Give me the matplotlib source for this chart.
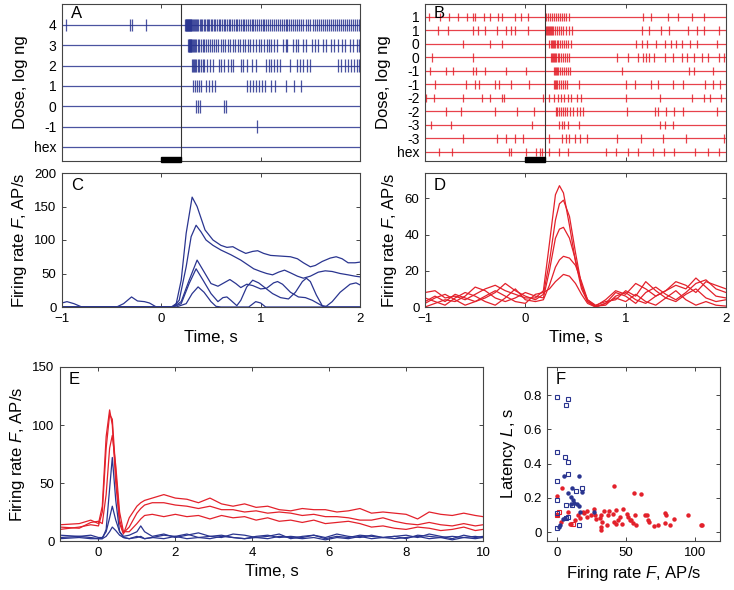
import matplotlib
matplotlib.use('Agg')
import matplotlib.pyplot as plt
import matplotlib.transforms as mtransforms
from matplotlib.patches import Rectangle

plt.rcParams['font.family'] = ['Liberation Sans', 'DejaVu Sans']
plt.rcParams['mathtext.fontset'] = 'custom'
plt.rcParams['mathtext.it'] = 'Liberation Sans:italic'
plt.rcParams['mathtext.rm'] = 'Liberation Sans'

BLUE = '#2a3590'
RED = '#e3212b'

# ---- A: spike trains, blue neuron (top row = dose 4) ----
A_labels = ['4', '3', '2', '1', '0', '-1', 'hex']
A_spikes = [
    [-0.96, -0.32, -0.30, -0.155,
     0.24, 0.245, 0.25, 0.255, 0.26, 0.265, 0.27, 0.275, 0.28, 0.285, 0.29, 0.295, 0.30, 0.31,
     0.32, 0.33, 0.34, 0.35, 0.36, 0.37, 0.385, 0.40, 0.41, 0.43, 0.44, 0.455, 0.47, 0.48, 0.50,
     0.51, 0.53, 0.545, 0.56, 0.58, 0.59, 0.61, 0.63, 0.64, 0.66, 0.68, 0.69, 0.71, 0.73, 0.75,
     0.76, 0.78, 0.80, 0.82, 0.83, 0.85, 0.87, 0.89, 0.91, 0.92, 0.94, 0.96, 0.98, 1.00, 1.02,
     1.03, 1.05, 1.07, 1.09, 1.11, 1.13, 1.15, 1.17, 1.19, 1.21, 1.23, 1.25, 1.27, 1.29, 1.31,
     1.33, 1.35, 1.37, 1.39, 1.41, 1.43, 1.46, 1.48, 1.50, 1.53, 1.55, 1.57, 1.59, 1.61, 1.63,
     1.65, 1.67, 1.69, 1.71, 1.73, 1.75, 1.77, 1.79, 1.81, 1.83, 1.85, 1.87, 1.89, 1.91, 1.93,
     1.95, 1.97, 1.99],
    [0.27, 0.275, 0.28, 0.285, 0.29, 0.295, 0.30, 0.31, 0.32, 0.33, 0.34, 0.35, 0.37, 0.38, 0.40,
     0.42, 0.43, 0.45, 0.47, 0.49, 0.51, 0.53, 0.55, 0.57, 0.60, 0.62, 0.64, 0.67, 0.69, 0.72,
     0.74, 0.77, 0.79, 0.82, 0.84, 0.87, 0.89, 0.92, 0.95, 0.98, 1.00, 1.03, 1.06, 1.08, 1.10,
     1.13, 1.16, 1.22, 1.25, 1.27, 1.33, 1.36, 1.38, 1.43, 1.46, 1.52, 1.55, 1.58, 1.63, 1.66,
     1.71, 1.74, 1.78, 1.82, 1.85, 1.90, 1.93, 1.97, 1.99],
    [0.31, 0.32, 0.33, 0.34, 0.35, 0.37, 0.38, 0.40, 0.42, 0.43, 0.46, 0.49, 0.52, 0.58, 0.60,
     0.63, 0.67, 0.70, 0.72, 0.80, 0.82, 0.86, 0.91, 0.95, 1.05, 1.08, 1.10, 1.13, 1.16, 1.19,
     1.30, 1.37, 1.40, 1.43, 1.47, 1.50, 1.78, 1.81, 1.85, 1.88, 1.91, 1.94, 1.97, 1.99],
    [0.32, 0.34, 0.36, 0.38, 0.40, 0.45, 0.48, 0.51, 0.54, 0.86, 0.89, 0.92, 0.95, 0.98, 1.01,
     1.04, 1.10, 1.14, 1.25, 1.34, 1.41],
    [0.35, 0.37, 0.39, 0.63, 0.65],
    [0.96],
    [],
]

# ---- B: spike trains, red neuron (top row first) ----
B_labels = ['1', '1', '0', '0', '-1', '-1', '-2', '-2', '-3', '-3', 'hex']
B_spikes = [
    [-0.96, -0.85, -0.76, -0.67, -0.58, -0.525, -0.50, -0.41, -0.35, -0.27, -0.235, -0.10, -0.04,
     0.03, 0.21, 0.23, 0.25, 0.27, 0.29, 0.31, 0.33, 0.35, 0.37, 0.39, 0.41, 0.44, 1.17, 1.25,
     1.42, 1.52, 1.66, 1.78],
    [-0.875, -0.77, -0.525, -0.475, -0.40, -0.28, -0.195, -0.14, -0.10, 0.03, 0.21, 0.22, 0.23,
     0.24, 0.25, 0.26, 0.27, 0.28, 0.30, 0.32, 0.34, 0.36, 0.38, 0.41, 0.44, 0.47, 1.16, 1.235,
     1.35, 1.43, 1.62, 1.71, 1.78, 1.93],
    [-0.62, -0.35, -0.23, 0.24, 0.26, 0.27, 0.28, 0.29, 0.30, 0.32, 0.33, 0.35, 0.37, 0.39, 0.41,
     0.43, 0.46, 1.10, 1.16, 1.21, 1.30, 1.39, 1.45, 1.505, 1.56, 1.64, 1.71, 1.91],
    [-0.93, -0.525, 0.26, 0.27, 0.28, 0.29, 0.30, 0.31, 0.33, 0.34, 0.36, 0.38, 0.40, 0.42, 0.44,
     0.91, 1.02, 1.12, 1.17, 1.20, 1.235, 1.28, 1.39, 1.47, 1.56, 1.615, 1.68, 1.76, 1.825, 1.93,
     1.98],
    [-0.946, -0.795, -0.72, -0.525, -0.49, -0.40, -0.195, 0.007, 0.29, 0.30, 0.31, 0.32, 0.33,
     0.35, 0.37, 0.39, 0.41, 0.43, 0.45, 0.96, 1.63, 1.68, 1.875],
    [-0.90, -0.59, -0.50, -0.465, -0.30, -0.26, -0.14, 0.04, 0.29, 0.30, 0.31, 0.32, 0.34, 0.36,
     0.38, 0.40, 0.42, 0.53, 1.00, 1.09, 1.25, 1.326, 1.47, 1.57, 1.79, 1.866, 1.94],
    [-0.99, -0.91, -0.62, -0.43, -0.35, -0.235, -0.21, 0.175, 0.24, 0.29, 0.33, 0.36, 0.39, 0.43,
     0.46, 0.51, 0.55, 1.00, 1.34, 1.66, 1.78, 1.84, 1.95],
    [-0.795, -0.64, -0.305, -0.08, 0.085, 0.31, 0.32, 0.34, 0.36, 0.38, 0.40, 0.42, 0.45, 0.48,
     0.51, 0.54, 0.57, 1.01, 1.29, 1.32, 1.40, 1.48, 1.57, 1.91],
    [-0.94, -0.745, 0.07, 0.34, 0.37, 0.39, 0.43, 0.535, 1.345, 1.39, 1.47],
    [-0.626, -0.286, -0.195, -0.10, -0.02, 0.24, 0.37, 0.41, 0.44, 0.495, 0.545, 0.613, 0.916,
     1.15, 1.377, 1.605, 1.98],
    [-0.859, -0.73, -0.16, -0.14, 0.007, 0.107, 0.15, 0.168, 0.235, 0.34, 0.43, 0.80, 0.90, 1.02,
     1.12, 1.27, 1.38, 1.48, 1.69, 1.825, 1.93],
]

# ---- C: firing rate, blue neuron ----
C1_t = [-1, -0.95, -0.88, -0.8, -0.45, -0.38, -0.3, -0.24, -0.17, -0.12, -0.05, 0.1, 0.15, 0.2,
        0.25, 0.31, 0.36, 0.44, 0.52, 0.6, 0.66, 0.72, 0.78, 0.85, 0.92, 0.97, 1.03, 1.1, 1.2,
        1.3, 1.37, 1.43, 1.5, 1.55, 1.62, 1.7, 1.76, 1.82, 1.88, 1.95, 2.0]
C1_v = [6, 8, 5, 0, 0, 5, 15, 9, 8, 6, 0, 0, 5, 40, 110, 164, 150, 115, 100, 92, 89, 90, 85, 80,
        83, 84, 80, 77, 76, 75, 72, 66, 60, 62, 68, 73, 75, 72, 66, 66, 67]
C2_t = [-1, 0.12, 0.18, 0.25, 0.3, 0.35, 0.4, 0.45, 0.52, 0.6, 0.7, 0.8, 0.87, 0.93, 1.0, 1.06,
        1.12, 1.18, 1.24, 1.3, 1.37, 1.43, 1.5, 1.58, 1.65, 1.72, 1.8, 1.88, 1.95, 2.0]
C2_v = [0, 0, 10, 60, 105, 122, 112, 100, 92, 85, 78, 70, 63, 57, 53, 50, 48, 52, 55, 51, 46,
        43, 46, 52, 54, 53, 50, 48, 46, 45]
C3_t = [-1, 0.12, 0.2, 0.28, 0.36, 0.42, 0.5, 0.57, 0.63, 0.69, 0.75, 0.8, 0.86, 0.92, 1.0,
        1.06, 1.13, 1.17, 1.22, 1.3, 1.38, 1.45, 1.52, 1.58, 1.64, 2.0]
C3_v = [0, 0, 8, 40, 70, 55, 35, 31, 36, 41, 35, 29, 34, 32, 27, 28, 36, 38, 34, 22, 15, 14, 10,
        5, 0, 0]
C4_t = [-1, 0.12, 0.2, 0.28, 0.35, 0.42, 0.5, 0.57, 0.62, 0.66, 0.7, 0.76, 0.8, 0.86, 0.92,
        0.98, 1.05, 1.12, 1.2, 1.28, 1.35, 1.42, 1.46, 1.5, 1.56, 1.62, 1.66, 1.72, 1.8, 1.9,
        1.96, 2.0]
C4_v = [0, 0, 5, 35, 57, 40, 20, 8, 14, 15, 10, 2, 10, 30, 40, 36, 28, 20, 14, 12, 22, 38, 43,
        38, 18, 2, 1, 8, 22, 34, 36, 33]
C5_t = [-1, 0.15, 0.25, 0.31, 0.37, 0.43, 0.5, 0.55, 0.6, 0.88, 0.95, 1.0, 1.05, 2.0]
C5_v = [0, 0, 5, 20, 30, 22, 8, 1, 0, 0, 8, 6, 0, 0]

# ---- D: firing rate, red neuron ----
D_time = [-1, -0.9, -0.8, -0.7, -0.6, -0.5, -0.4, -0.3, -0.2, -0.1, 0, 0.1, 0.18, 0.24, 0.3,
          0.34, 0.38, 0.44, 0.5, 0.56, 0.62, 0.7, 0.8, 0.9, 1.0, 1.1, 1.2, 1.3, 1.4, 1.5, 1.6,
          1.7, 1.8, 1.9, 2.0]
D1 = [8, 9, 5, 6, 4, 7, 10, 12, 9, 7, 5, 5, 9, 35, 62, 67, 63, 45, 25, 10, 3, 0.5, 1, 6, 8,
      4, 2, 6, 9, 12, 10, 16, 11, 6, 5]
D2 = [3, 6, 3, 7, 5, 3, 5, 8, 13, 9, 6, 4, 7, 25, 48, 57, 59, 50, 30, 12, 4, 0.5, 4, 9, 7,
      13, 10, 6, 9, 14, 12, 8, 14, 12, 10]
D3 = [0, 2, 4, 3, 6, 11, 9, 5, 3, 5, 8, 6, 5, 20, 38, 43, 44, 38, 26, 12, 3, 0, 2, 8, 6,
      2, 8, 11, 7, 4, 8, 13, 15, 10, 8]
D4 = [5, 3, 1, 5, 8, 6, 3, 1, 5, 10, 4, 3, 4, 12, 22, 26, 28, 27, 23, 14, 4, 1, 3, 4, 9,
      6, 14, 9, 5, 3, 7, 10, 5, 3, 4]
D5 = [2, 5, 7, 4, 1, 3, 6, 9, 6, 3, 2, 7, 8, 10, 14, 16, 18, 17, 13, 7, 2, 0, 2, 5, 3,
      7, 3, 1, 5, 9, 4, 1, 3, 1, 0.5]

# ---- E: long firing rate traces ----
E_time = [-1, -0.5, -0.2, 0, 0.1, 0.2, 0.29, 0.36, 0.45, 0.55, 0.65, 0.8, 1.0, 1.1, 1.2, 1.4,
          1.7, 2.0, 2.3, 2.6, 2.9, 3.2, 3.5, 3.8, 4.1, 4.4, 4.7, 5.0, 5.3, 5.6, 5.9, 6.2, 6.5,
          6.8, 7.1, 7.4, 7.7, 8.0, 8.3, 8.6, 8.9, 9.2, 9.5, 9.8, 10.0]
E_red1 = [14, 15, 18, 15, 30, 90, 113, 100, 50, 15, 6, 20, 30, 33, 35, 37, 40, 37, 36, 33, 37,
          32, 30, 32, 29, 30, 27, 26, 28, 27, 27, 25, 26, 28, 24, 25, 24, 23, 19, 25, 23, 22,
          24, 22, 21]
E_red2 = [10, 12, 14, 13, 25, 80, 109, 105, 60, 18, 7, 12, 24, 28, 31, 33, 33, 31, 30, 28, 30,
          27, 27, 25, 26, 24, 25, 24, 22, 23, 21, 21, 20, 18, 18, 20, 17, 15, 14, 16, 14, 13,
          15, 13, 14]
E_red3 = [12, 11, 16, 17, 15, 40, 80, 91, 65, 25, 8, 8, 15, 19, 22, 23, 21, 23, 21, 22, 19,
          22, 20, 21, 18, 20, 17, 18, 16, 18, 15, 16, 17, 15, 12, 13, 11, 10, 12, 11, 9, 10,
          12, 9, 10]
E_blue1 = [3, 4, 3, 2, 2, 10, 45, 72, 35, 8, 3, 2, 3, 4, 2, 3, 5, 4, 6, 3, 4, 5, 3, 2, 4, 5,
           3, 4, 3, 5, 2, 4, 3, 5, 4, 3, 4, 2, 5, 4, 3, 4, 3, 4, 3]
E_blue2 = [5, 4, 5, 3, 3, 8, 20, 30, 18, 8, 4, 5, 8, 13, 8, 4, 6, 3, 5, 7, 4, 3, 6, 5, 3, 4,
           6, 2, 4, 5, 3, 6, 4, 3, 5, 3, 4, 5, 3, 6, 4, 2, 5, 3, 4]
E_blue3 = [2, 3, 2, 2, 2, 4, 8, 12, 9, 5, 3, 2, 4, 3, 2, 3, 2, 4, 2, 3, 2, 4, 3, 2, 3, 2, 4,
           3, 2, 3, 1, 3, 2, 4, 2, 3, 2, 3, 4, 2, 3, 1, 3, 2, 3]

# ---- F: latency vs firing rate ----
F_bsq_rate = [0, 8, 7, 0, 6, 8, 8, 0, 14, 18, 0, 7, 11, 0, 8, 7, 16, 0]
F_bsq_lat = [0.79, 0.78, 0.74, 0.47, 0.44, 0.41, 0.34, 0.30, 0.24, 0.255, 0.19, 0.16, 0.16,
             0.11, 0.09, 0.08, 0.04, 0.025]
F_bdot_rate = [5, 16, 11, 8.5, 18.5, 10.5, 11.5, 12.5, 14.5, 16, 16.5, 27, 5.7, 4.6, 2.2, 1.5, 10]
F_bdot_lat = [0.325, 0.325, 0.26, 0.23, 0.235, 0.205, 0.19, 0.17, 0.165, 0.15, 0.12, 0.12,
              0.08, 0.075, 0.04, 0.03, 0.165]
F_rsq_rate = [2, 12, 0]
F_rsq_lat = [0.12, 0.05, 0.10]
F_rdot_rate = [0, 0, 4, 3, 9.5, 10.6, 8, 17, 19, 19.7, 21.7, 24.6, 26.6, 27.8, 28.4, 31.5, 32,
               32, 32, 33, 34.5, 37, 38, 36.5, 41, 41.5, 41.5, 43, 43, 44, 45.5, 48, 47.3, 51,
               51.7, 53, 54, 55, 56, 56.5, 57, 61, 63.5, 65, 66, 67, 70, 73, 78, 79, 78, 82, 85,
               95, 104, 105, 13, 22, 15.5]
F_rdot_lat = [0.21, 0.10, 0.255, 0.06, 0.05, 0.048, 0.12, 0.085, 0.12, 0.11, 0.09, 0.10, 0.135,
              0.10, 0.075, 0.08, 0.10, 0.03, 0.01, 0.06, 0.125, 0.10, 0.125, 0.04, 0.105, 0.27,
              0.06, 0.13, 0.05, 0.07, 0.09, 0.135, 0.045, 0.105, 0.09, 0.07, 0.07, 0.055, 0.23,
              0.10, 0.04, 0.225, 0.10, 0.10, 0.07, 0.06, 0.035, 0.04, 0.11, 0.10, 0.055, 0.04,
              0.075, 0.10, 0.04, 0.04, 0.07, 0.125, 0.10]

fig = plt.figure(figsize=(7.34, 5.9), dpi=100)


def px_axes(l, t, r, b):
    return fig.add_axes([l / 734, 1 - b / 590, (r - l) / 734, (b - t) / 590])


def style(ax, size=9.5):
    for s in ax.spines.values():
        s.set_color('#444444')
        s.set_linewidth(0.8)
    ax.tick_params(direction='in', top=True, right=True, length=3, width=0.7,
                   color='#444444', labelsize=size, pad=4)


def raster(ax, spikes, labels, color, ylim, letter):
    n = len(spikes)
    pos = list(range(n, 0, -1))
    for p in pos:
        ax.axhline(p, color=color, lw=0.9, alpha=0.85, zorder=1)
    trains = [s for s in spikes if len(s)]
    offs = [p for s, p in zip(spikes, pos) if len(s)]
    ax.eventplot(trains, lineoffsets=offs, linelengths=0.62, colors=color,
                 linewidths=0.9, alpha=0.85, zorder=2)
    ax.axvline(0.2, color='#333333', lw=0.8, zorder=3)
    trans = mtransforms.blended_transform_factory(ax.transData, ax.transAxes)
    ax.add_patch(Rectangle((0, -0.008), 0.2, 0.036, transform=trans, color='black',
                           clip_on=False, zorder=5))
    ax.set_xlim(-1, 2)
    ax.set_ylim(*ylim)
    ax.set_xticks([-1, 0, 1, 2])
    ax.set_xticklabels([])
    ax.set_yticks(pos)
    ax.set_yticklabels(labels)
    style(ax, 10)
    ax.tick_params(axis='y', length=0)
    ax.set_ylabel('Dose, log ng', fontsize=12)
    ax.text(0.03, 0.985, letter, transform=ax.transAxes, ha='left', va='top', fontsize=12)


axA = px_axes(62, 4, 360, 161)
raster(axA, A_spikes, A_labels, BLUE, (0.31, 8.03), 'A')
axB = px_axes(425, 4, 726, 161)
raster(axB, B_spikes, B_labels, RED, (0.33, 11.96), 'B')

axC = px_axes(62, 173, 360, 307)
for t, v in [(C1_t, C1_v), (C2_t, C2_v), (C3_t, C3_v), (C4_t, C4_v), (C5_t, C5_v)]:
    axC.plot(t, v, color=BLUE, lw=0.9)
axC.set_xlim(-1, 2)
axC.set_ylim(0, 200)
axC.set_xticks([-1, 0, 1, 2])
axC.set_yticks([0, 50, 100, 150, 200])
style(axC)
axC.set_xlabel('Time, s', fontsize=12)
axC.set_ylabel('Firing rate $F$, AP/s', fontsize=12)
axC.text(0.03, 0.96, 'C', transform=axC.transAxes, ha='left', va='top', fontsize=12)

axD = px_axes(425, 173, 726, 307)
for v in [D1, D2, D3, D4, D5]:
    axD.plot(D_time, v, color=RED, lw=0.9)
axD.set_xlim(-1, 2)
axD.set_ylim(0, 74)
axD.set_xticks([-1, 0, 1, 2])
axD.set_yticks([0, 20, 40, 60])
style(axD)
axD.set_xlabel('Time, s', fontsize=12)
axD.set_ylabel('Firing rate $F$, AP/s', fontsize=12)
axD.text(0.03, 0.96, 'D', transform=axD.transAxes, ha='left', va='top', fontsize=12)

axE = px_axes(60, 367, 483, 541)
for v in [E_red1, E_red2, E_red3]:
    axE.plot(E_time, v, color=RED, lw=0.9)
for v in [E_blue1, E_blue2, E_blue3]:
    axE.plot(E_time, v, color=BLUE, lw=0.9)
axE.set_xlim(-1, 10)
axE.set_ylim(0, 150)
axE.set_xticks([0, 2, 4, 6, 8, 10])
axE.set_yticks([0, 50, 100, 150])
style(axE)
axE.set_xlabel('Time, s', fontsize=12)
axE.set_ylabel('Firing rate $F$, AP/s', fontsize=12)
axE.text(0.02, 0.97, 'E', transform=axE.transAxes, ha='left', va='top', fontsize=12)

axF = px_axes(547, 367, 720, 541)
axF.plot(F_rdot_rate, F_rdot_lat, 'o', color=RED, ms=3.2, mew=0)
axF.plot(F_rsq_rate, F_rsq_lat, 's', mfc='none', mec=RED, ms=3.2, mew=0.8)
axF.plot(F_bdot_rate, F_bdot_lat, 'o', color=BLUE, ms=3.2, mew=0)
axF.plot(F_bsq_rate, F_bsq_lat, 's', mfc='none', mec=BLUE, ms=3.2, mew=0.8)
axF.set_xlim(-7, 118)
axF.set_ylim(-0.052, 0.965)
axF.set_xticks([0, 50, 100])
axF.set_yticks([0, 0.2, 0.4, 0.6, 0.8])
axF.set_yticklabels(['0', '0.2', '0.4', '0.6', '0.8'])
style(axF)
axF.set_xlabel('Firing rate $F$, AP/s', fontsize=12)
axF.set_ylabel('Latency $L$, s', fontsize=12)
axF.text(0.05, 0.97, 'F', transform=axF.transAxes, ha='left', va='top', fontsize=12)

fig.savefig('out.png', dpi=100)
